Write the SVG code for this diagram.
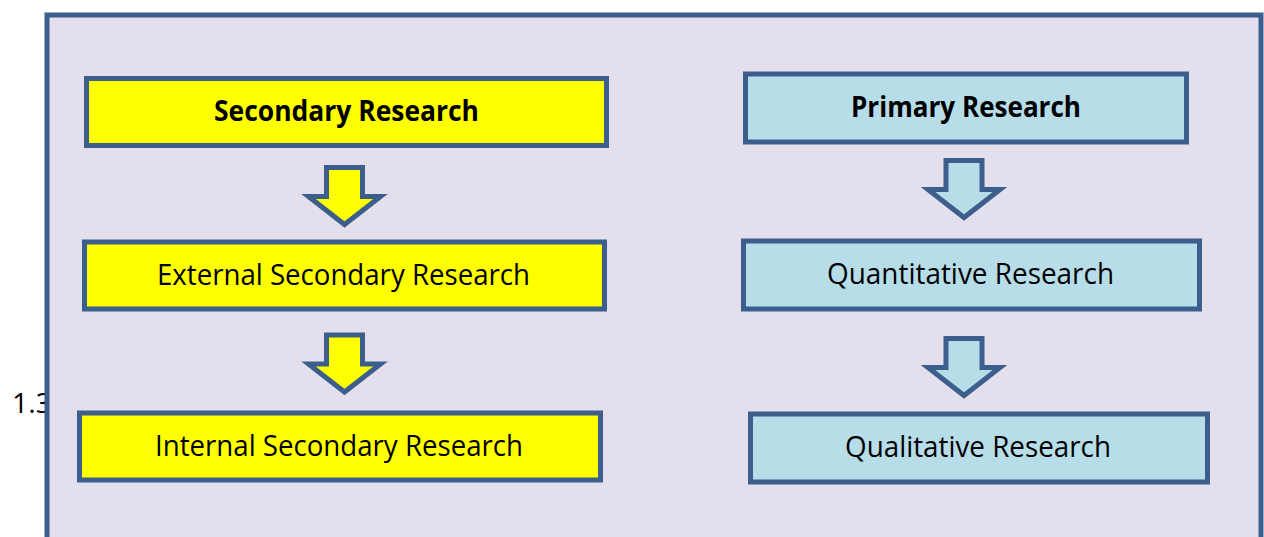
<svg xmlns="http://www.w3.org/2000/svg" width="1264" height="537" viewBox="0 0 1264 537">
  <style>
    .frame { fill: #E4DFEC; stroke: #3B5E8C; stroke-width: 5; }
    .box { stroke: #3B5E8C; stroke-width: 5; }
    .yellow { fill: #FFFF00; }
    .blue { fill: #B7DDE8; }
    .arrow { stroke: #3B5E8C; stroke-width: 5; stroke-linejoin: miter; stroke-miterlimit: 10; }
    text { font-family: "Open Sans", "Noto Sans", "Liberation Sans", sans-serif; fill: #000000; text-anchor: middle; }
    .lbl { font-size: 28.5px; }
    .bold { font-weight: bold; }
    .margin { font-size: 27px; text-anchor: start; }
  </style>
  <defs>
    <!-- block arrow pointing down, origin at top-centre of its shaft -->
    <path id="downArrow" d="M -18 0 L 18 0 L 18 29 L 36 29 L 0 57 L -36 29 L -18 29 Z"/>
  </defs>

  <!-- margin number partly hidden behind the panel -->
  <text class="margin" x="12" y="413" textLength="40" lengthAdjust="spacingAndGlyphs">1.3</text>

  <!-- background panel -->
  <g id="panel">
    <rect class="frame" x="47" y="15" width="1214" height="545"/>
  </g>

  <!-- connectors -->
  <g id="connectors">
    <use href="#downArrow" class="arrow yellow" x="344.5" y="167.5"/>
    <use href="#downArrow" class="arrow yellow" x="344.5" y="335"/>
    <use href="#downArrow" class="arrow blue" x="964" y="160.5"/>
    <use href="#downArrow" class="arrow blue" x="964" y="338.5"/>
  </g>

  <!-- left column -->
  <g id="secondary-research">
    <rect class="box yellow" x="86.5" y="78.5" width="520" height="67"/>
    <text class="lbl bold" x="346.5" y="120.5" textLength="265" lengthAdjust="spacingAndGlyphs">Secondary Research</text>
  </g>
  <g id="external-secondary-research">
    <rect class="box yellow" x="84.5" y="242" width="520" height="67"/>
    <text class="lbl" x="343.5" y="285" textLength="373" lengthAdjust="spacingAndGlyphs">External Secondary Research</text>
  </g>
  <g id="internal-secondary-research">
    <rect class="box yellow" x="79.5" y="413" width="521" height="67"/>
    <text class="lbl" x="339" y="456" textLength="368" lengthAdjust="spacingAndGlyphs">Internal Secondary Research</text>
  </g>

  <!-- right column -->
  <g id="primary-research">
    <rect class="box blue" x="745.5" y="74" width="441" height="68"/>
    <text class="lbl bold" x="966" y="117" textLength="230" lengthAdjust="spacingAndGlyphs">Primary Research</text>
  </g>
  <g id="quantitative-research">
    <rect class="box blue" x="743.5" y="241" width="456" height="68"/>
    <text class="lbl" x="970.5" y="284" textLength="287" lengthAdjust="spacingAndGlyphs">Quantitative Research</text>
  </g>
  <g id="qualitative-research">
    <rect class="box blue" x="750.5" y="414" width="457" height="68"/>
    <text class="lbl" x="978" y="457" textLength="266" lengthAdjust="spacingAndGlyphs">Qualitative Research</text>
  </g>
</svg>
